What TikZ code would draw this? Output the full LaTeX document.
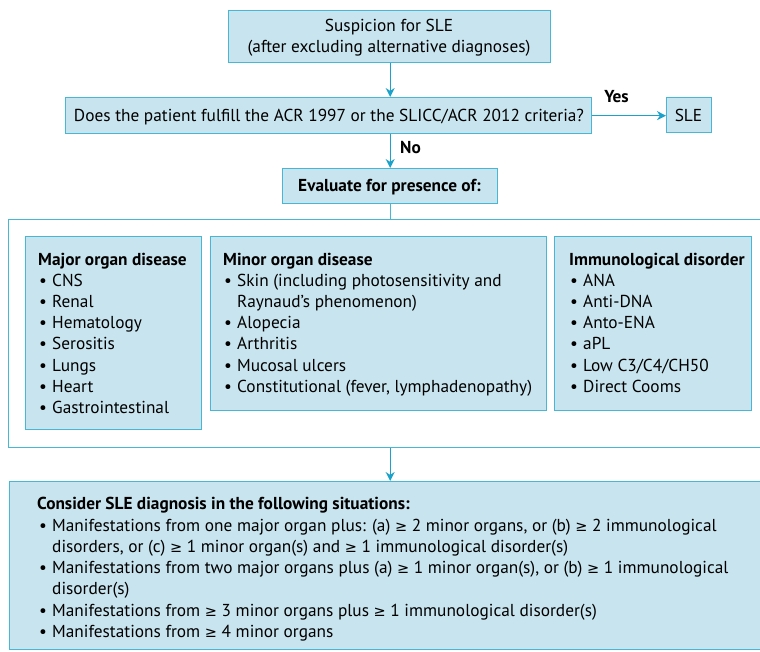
\documentclass[tikz,border=0pt]{standalone}
\usepackage{fontspec}
\setmainfont{PT Sans}
\newfontfamily\symf{DejaVu Sans}
\usetikzlibrary{arrows.meta}
\definecolor{boxfill}{HTML}{C8E4EE}
\definecolor{boxline}{HTML}{48B7D3}
\definecolor{arrowc}{HTML}{1AA2CA}
\newcommand{\mygeq}{{\symf\fontsize{14.5bp}{14.5bp}\selectfont ≥}}
\newcommand{\bul}{\makebox[13bp][l]{\textbullet}}
\begin{document}
\begin{tikzpicture}[x=1bp,y=-1bp,
  font=\fontsize{17.3bp}{21.3bp}\selectfont,
  box/.style={draw=boxline, fill=boxfill, line width=1.3bp, inner sep=0, anchor=north west},
  frame/.style={draw=boxline, line width=1.3bp, inner sep=0, anchor=north west},
  txt/.style={inner sep=0, anchor=base west},
  ctxt/.style={inner sep=0, anchor=base},
  lab/.style={inner sep=0, anchor=base west, font=\fontsize{17.3bp}{21.3bp}\selectfont\bfseries},
  arr/.style={draw=arrowc, line width=1.3bp, -{Stealth[length=9bp,width=9bp]}},
  ln/.style={draw=boxline, line width=1.3bp}]
\useasboundingbox (0,0) rectangle (760,652);
\clip (0,0) rectangle (760,652);
% boxes
\node[box, minimum width=322bp, minimum height=52bp] (top) at (228,10) {};
\node[box, minimum width=526bp, minimum height=36bp] (q) at (65,97) {};
\node[box, minimum width=45bp, minimum height=35bp] (sle) at (666,97) {};
\node[box, minimum width=215bp, minimum height=35bp] (ev) at (282,168) {};
\node[frame, minimum width=770bp, minimum height=228bp] (outer) at (8,219) {};
\node[box, minimum width=176bp, minimum height=193bp] (maj) at (25,236) {};
\node[box, minimum width=336bp, minimum height=174bp] (min) at (210,236) {};
\node[box, minimum width=197bp, minimum height=174bp] (imm) at (554,236) {};
\node[box, minimum width=770bp, minimum height=168bp] (bot) at (9,481) {};
% connectors
\draw[arr] (top.south -| ev.north) -- (q.north -| ev.north);
\draw[arr] (q.east) -- (q.east -| sle.west);
\draw[arr] (q.south -| ev.north) -- (ev.north);
\draw[ln] (ev.south) -- (ev.south |- outer.north);
\draw[arr] (outer.south -| ev.south) -- (bot.north -| ev.south);
\node[lab, anchor=base] (yes) at (616.5,103) {Yes};
\node[lab] (no) at (400,153) {No};
% texts
\node[ctxt] (t1) at (389,32) {Suspicion for SLE};
\node[ctxt] (t2) at (389,52.5) {(after excluding alternative diagnoses)};
\node[ctxt] (qt) at (329,122) {Does the patient fulfill the ACR 1997 or the SLICC/ACR 2012 criteria?};
\node[ctxt] (slet) at (688.5,122) {SLE};
\node[ctxt, font=\fontsize{17.3bp}{21.3bp}\selectfont\bfseries] (evt) at (389.5,191) {Evaluate for presence of:};
% major
\node[lab] (majh) at (38,265) {Major organ disease};
\node[txt] (maj1) at (39,286) {\bul CNS};
\node[txt] (maj2) at (39,307.3) {\bul Renal};
\node[txt] (maj3) at (39,328.6) {\bul Hematology};
\node[txt] (maj4) at (39,349.9) {\bul Serositis};
\node[txt] (maj5) at (39,371.2) {\bul Lungs};
\node[txt] (maj6) at (39,392.5) {\bul Heart};
\node[txt] (maj7) at (39,413.8) {\bul Gastrointestinal};
% minor
\node[lab] (minh) at (223,265) {Minor organ disease};
\node[txt] (min1) at (224,286) {\bul Skin (including photosensitivity and};
\node[txt] (min1b) at (237,307.3) {Raynaud’s phenomenon)};
\node[txt] (min2) at (224,328.6) {\bul Alopecia};
\node[txt] (min3) at (224,349.9) {\bul Arthritis};
\node[txt] (min4) at (224,371.2) {\bul Mucosal ulcers};
\node[txt] (min5) at (224,392.5) {\bul Constitutional (fever, lymphadenopathy)};
% immuno
\node[lab] (immh) at (569,265) {Immunological disorder};
\node[txt] (imm1) at (570,286) {\bul ANA};
\node[txt] (imm2) at (570,307.3) {\bul Anti-DNA};
\node[txt] (imm3) at (570,328.6) {\bul Anto-ENA};
\node[txt] (imm4) at (570,349.9) {\bul aPL};
\node[txt] (imm5) at (570,371.2) {\bul Low C3/C4/CH50};
\node[txt] (imm6) at (570,392.5) {\bul Direct Cooms};
% bottom
\node[lab] (both) at (37,509) {Consider SLE diagnosis in the following situations:};
\node[txt] (bot1) at (39,531) {\bul Manifestations from one major organ plus: (a) \mygeq{} 2 minor organs, or (b) \mygeq{} 2 immunological};
\node[txt] (bot1b) at (52,552.3) {disorders, or (c) \mygeq{} 1 minor organ(s) and \mygeq{} 1 immunological disorder(s)};
\node[txt] (bot2) at (39,573.6) {\bul Manifestations from two major organs plus (a) \mygeq{} 1 minor organ(s), or (b) \mygeq{} 1 immunological};
\node[txt] (bot2b) at (52,594.9) {disorder(s)};
\node[txt] (bot3) at (39,616.2) {\bul Manifestations from \mygeq{} 3 minor organs plus \mygeq{} 1 immunological disorder(s)};
\node[txt] (bot4) at (39,637.5) {\bul Manifestations from \mygeq{} 4 minor organs};
\end{tikzpicture}
\end{document}
